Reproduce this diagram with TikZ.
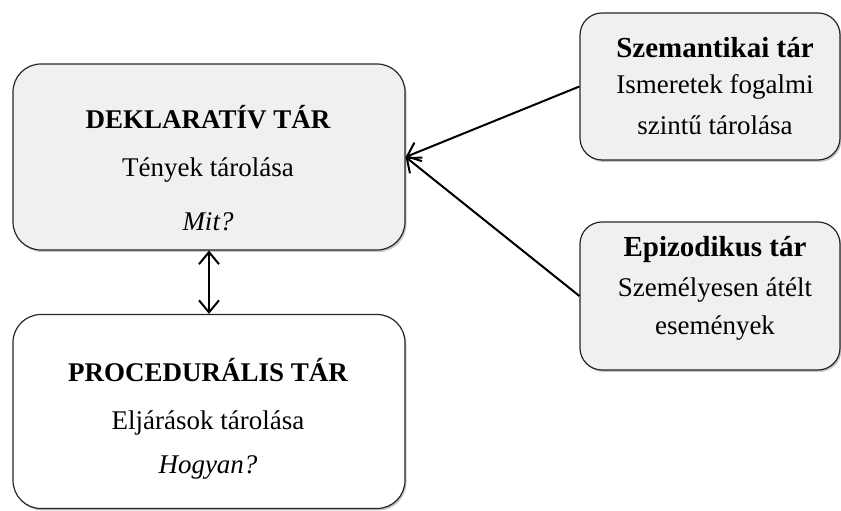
\documentclass[tikz,border=0pt]{standalone}
\usepackage{fontspec}
\setmainfont{Liberation Serif}
\usetikzlibrary{arrows.meta,shadows}
\tikzset{mybarb/.tip={Straight Barb[length=12pt,width=20pt,line width=2pt]}}
\begin{document}
\begin{tikzpicture}[x=1pt,y=1pt,
  box/.style={draw=black!85, line width=1.2pt, rounded corners=28pt, drop shadow={opacity=0.45, shadow xshift=1.5pt, shadow yshift=-2pt}},
  graybox/.style={box, fill=black!6},
  whitebox/.style={box, fill=white},
  txt/.style={inner sep=0pt, font=\fontsize{27}{31}\selectfont},
  btxt/.style={inner sep=0pt, font=\fontsize{27}{31}\selectfont\bfseries},
  sbtxt/.style={inner sep=0pt, font=\fontsize{29}{33}\selectfont\bfseries},
  conn/.style={line width=2pt, -{mybarb}},
  dconn/.style={line width=2pt, {mybarb}-{mybarb}}
]
\useasboundingbox (0,0) rectangle (841,511);
\node[graybox, minimum width=392pt, minimum height=186pt] (dekl) at (209,354) {};
\node[whitebox, minimum width=392pt, minimum height=194pt] (proc) at (209,99.5) {};
\node[graybox, minimum width=260pt, minimum height=147pt, rounded corners=22pt] (szem) at (710,424.5) {};
\node[graybox, minimum width=260pt, minimum height=148pt, rounded corners=22pt] (epi) at (710,215) {};

\node[btxt] (d1) at (208,394) {DEKLARATÍV TÁR};
\node[txt] (d2) at (208,341) {Tények tárolása};
\node[txt] (d3) at (208,289) {\itshape Mit?};

\node[btxt] (p1) at (208,141) {PROCEDURÁLIS TÁR};
\node[txt] (p2) at (208,88) {Eljárások tárolása};
\node[txt] (p3) at (208,44) {\itshape Hogyan?};

\node[sbtxt] (s1) at (715,463) {Szemantikai tár};
\node[txt] (s2) at (715,424) {Ismeretek fogalmi};
\node[txt] (s3) at (715,386) {szintű tárolása};

\node[sbtxt] (e1) at (715,261) {Epizodikus tár};
\node[txt] (e2) at (715,221) {Személyesen átélt};
\node[txt] (e3) at (715,183) {események};

\draw[conn] (szem.west) -- (dekl.east);
\draw[conn] (epi.west) -- (dekl.east);
\draw[dconn] (dekl.south) -- (proc.north);
\end{tikzpicture}
\end{document}
